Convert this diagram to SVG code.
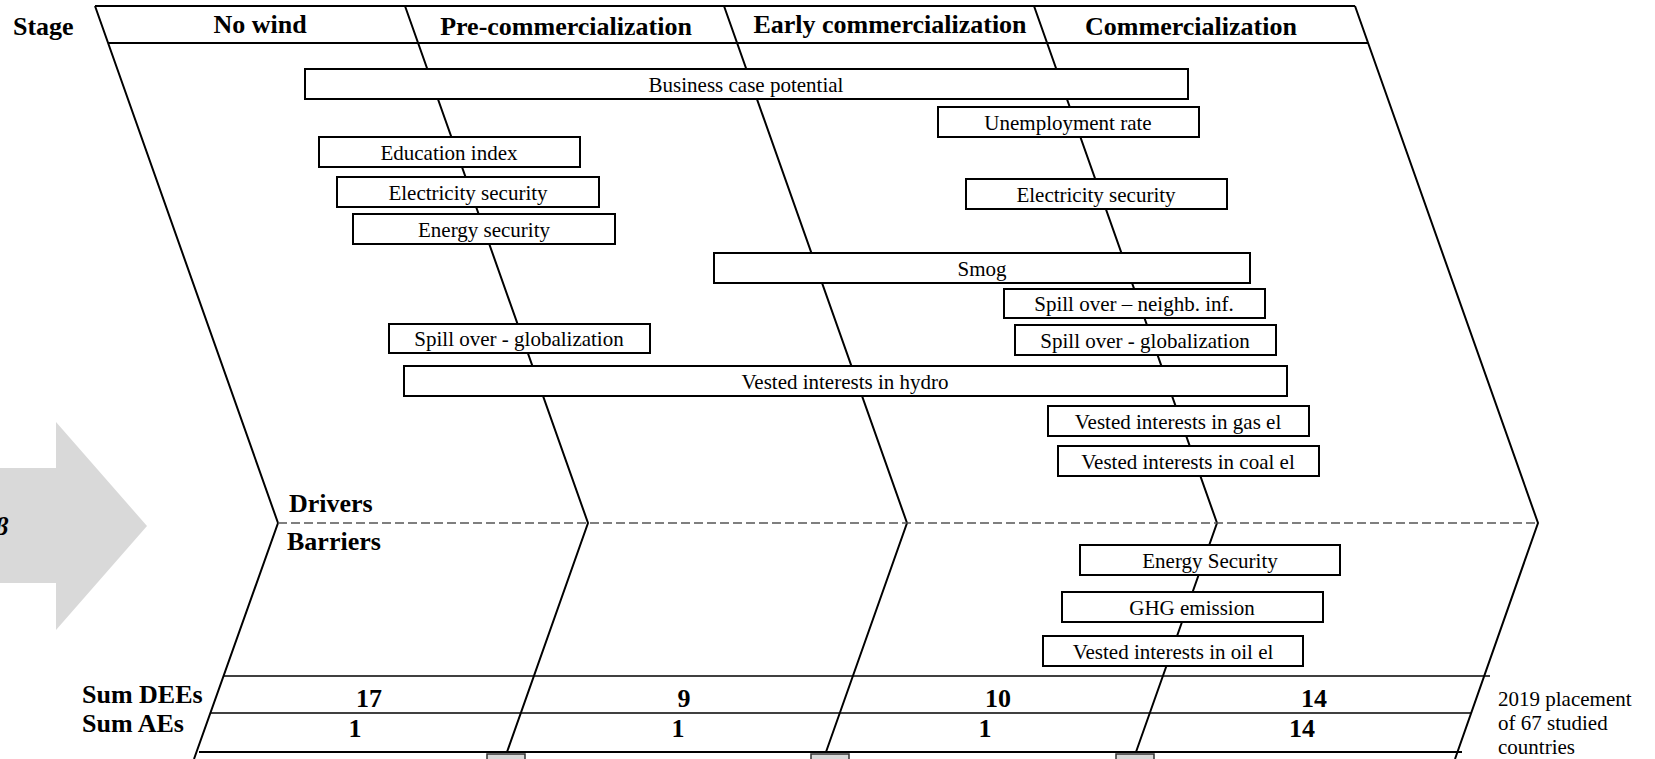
<svg xmlns="http://www.w3.org/2000/svg" width="1655" height="759" viewBox="0 0 1655 759">
<style>
.frame{fill:none;stroke:#000;stroke-width:2;stroke-linejoin:miter}
.thin{fill:none;stroke:#000;stroke-width:1.3}
.dash{fill:none;stroke:#555;stroke-width:1.3;stroke-dasharray:9 4}
.box rect{fill:#fff;stroke:#000;stroke-width:2}
.box text{font-family:"Liberation Serif","Times New Roman",serif;font-size:21px;text-anchor:middle;fill:#000}
.hd{font-family:"Liberation Serif","Times New Roman",serif;font-size:26px;font-weight:bold;fill:#000}
.num{font-family:"Liberation Serif","Times New Roman",serif;font-size:26px;font-weight:bold;fill:#000;text-anchor:middle}
.note{font-family:"Liberation Serif","Times New Roman",serif;font-size:21px;fill:#000}
.stub{fill:#d9d9d9;stroke:#333;stroke-width:1.5}
</style>
<rect width="1655" height="759" fill="#fff"/>
<g id="arrow">
<polygon points="-10,468 56,468 56,422 147,526 56,630 56,583 -10,583" fill="#d9d9d9"/>
<text x="-5" y="535" font-family="Liberation Serif, serif" font-size="26" font-weight="bold" font-style="italic">β</text>
</g>
<g id="connectors">
<line class="frame" x1="95" y1="6" x2="1355" y2="6"/>
<line class="frame" x1="108" y1="43" x2="1368" y2="43"/>
<polyline class="frame" points="95,6 278,523 194,759"/>
<polyline class="frame" points="405,6 588,523 507,752"/>
<polyline class="frame" points="724,6 907,523 826,752"/>
<polyline class="frame" points="1034,6 1217,523 1136,752"/>
<polyline class="frame" points="1355,6 1538,523 1455,759"/>
<line class="dash" x1="278" y1="523" x2="1538" y2="523"/>
<line class="thin" x1="224" y1="676" x2="1490" y2="676"/>
<line class="thin" x1="211" y1="713" x2="1471" y2="713"/>
<line class="frame" x1="199" y1="752" x2="1462" y2="752" stroke-width="2.5"/>
<rect class="stub" x="487" y="754" width="38" height="14"/>
<rect class="stub" x="811" y="754" width="38" height="14"/>
<rect class="stub" x="1116" y="754" width="38" height="14"/>
</g>
<g id="headers">
<text class="hd" x="13" y="35">Stage</text>
<text class="hd" x="260" y="33" text-anchor="middle">No wind</text>
<text class="hd" x="566" y="35" text-anchor="middle">Pre-commercialization</text>
<text class="hd" x="890" y="33" text-anchor="middle">Early commercialization</text>
<text class="hd" x="1191" y="35" text-anchor="middle">Commercialization</text>
<text class="hd" x="289" y="512">Drivers</text>
<text class="hd" x="287" y="550">Barriers</text>
</g>
<g id="n-business" class="box"><rect x="305" y="69" width="883" height="30"/><text x="746" y="92">Business case potential</text></g>
<g id="n-unemployment" class="box"><rect x="938" y="107" width="261" height="30"/><text x="1068" y="130">Unemployment rate</text></g>
<g id="n-education" class="box"><rect x="319" y="137" width="261" height="30"/><text x="449" y="160">Education index</text></g>
<g id="n-elec-left" class="box"><rect x="337" y="177" width="262" height="30"/><text x="468" y="200">Electricity security</text></g>
<g id="n-elec-right" class="box"><rect x="966" y="179" width="261" height="30"/><text x="1096" y="202">Electricity security</text></g>
<g id="n-energy-left" class="box"><rect x="353" y="214" width="262" height="30"/><text x="484" y="237">Energy security</text></g>
<g id="n-smog" class="box"><rect x="714" y="253" width="536" height="30"/><text x="982" y="276">Smog</text></g>
<g id="n-spill-neighb" class="box"><rect x="1004" y="289" width="261" height="29"/><text x="1134" y="311">Spill over – neighb. inf.</text></g>
<g id="n-spill-glob-left" class="box"><rect x="389" y="324" width="261" height="29"/><text x="519" y="346">Spill over - globalization</text></g>
<g id="n-spill-glob-right" class="box"><rect x="1015" y="325" width="261" height="30"/><text x="1145" y="348">Spill over - globalization</text></g>
<g id="n-vested-hydro" class="box"><rect x="404" y="366" width="883" height="30"/><text x="845" y="389">Vested interests in hydro</text></g>
<g id="n-vested-gas" class="box"><rect x="1048" y="406" width="261" height="30"/><text x="1178" y="429">Vested interests in gas el</text></g>
<g id="n-vested-coal" class="box"><rect x="1058" y="446" width="261" height="30"/><text x="1188" y="469">Vested interests in coal el</text></g>
<g id="n-energy-barrier" class="box"><rect x="1080" y="545" width="260" height="30"/><text x="1210" y="568">Energy Security</text></g>
<g id="n-ghg" class="box"><rect x="1062" y="592" width="261" height="30"/><text x="1192" y="615">GHG emission</text></g>
<g id="n-vested-oil" class="box"><rect x="1043" y="636" width="260" height="30"/><text x="1173" y="659">Vested interests in oil el</text></g>
<g id="table">
<text class="hd" x="82" y="703">Sum DEEs</text>
<text class="hd" x="82" y="732">Sum AEs</text>
<text class="num" x="369" y="707">17</text>
<text class="num" x="684" y="707">9</text>
<text class="num" x="998" y="707">10</text>
<text class="num" x="1314" y="707">14</text>
<text class="num" x="355" y="737">1</text>
<text class="num" x="678" y="737">1</text>
<text class="num" x="985" y="737">1</text>
<text class="num" x="1302" y="737">14</text>
</g>
<g id="note">
<text class="note" x="1498" y="706">2019 placement</text>
<text class="note" x="1498" y="730">of 67 studied</text>
<text class="note" x="1498" y="754">countries</text>
</g>
</svg>
